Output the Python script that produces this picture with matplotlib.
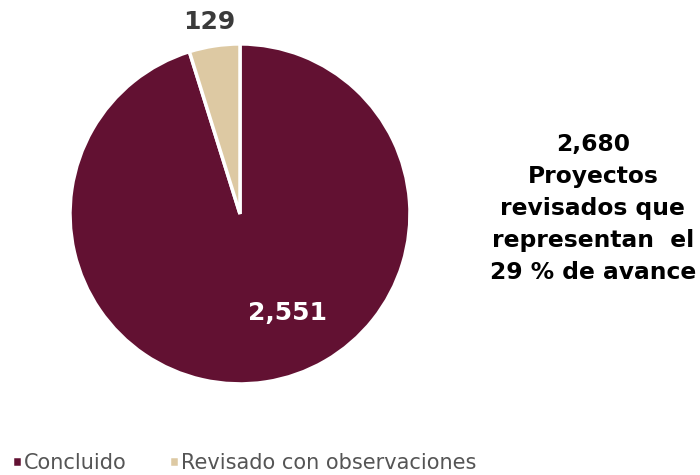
import numpy as np
import matplotlib.pyplot as plt

categorias = ['Concluido', 'Revisado con observaciones']
valores = [2551, 129]
colores = ['#621132', '#DDC9A3']
etiquetas = ['2,551', '129']
texto_total = '2,680\nProyectos\nrevisados que\nrepresentan  el\n29 % de avance'

fig = plt.figure(figsize=(7, 4.75), dpi=100)
ax = fig.add_axes([0.1, 0.1916, 0.4857, 0.716])

wedges, _ = ax.pie(valores, colors=colores, startangle=90, counterclock=False,
                   wedgeprops=dict(edgecolor='white', linewidth=2.5))
ax.set_xlim(-1, 1)
ax.set_ylim(-1, 1)
ax.set_aspect('equal')

# etiquetas de valores
ax.text(0.28, -0.58, etiquetas[0], color='white', fontsize=18, fontweight='heavy',
        ha='center', va='center')
ax.text(-0.18, 1.13, etiquetas[1], color='#3a3a3a', fontsize=18, fontweight='heavy',
        ha='center', va='center')

fig.text(0.847, 0.562, texto_total, ha='center', va='center', fontsize=16.8,
         fontweight='heavy', color='black', linespacing=1.5)

leg = fig.legend(wedges, categorias, loc='lower left', bbox_to_anchor=(-0.01, -0.035),
                 ncol=2, frameon=False, fontsize=15, handlelength=0.5, handleheight=0.5,
                 handletextpad=0.1, columnspacing=2.0, labelcolor='#555555')

plt.savefig('out.png', dpi=100)
